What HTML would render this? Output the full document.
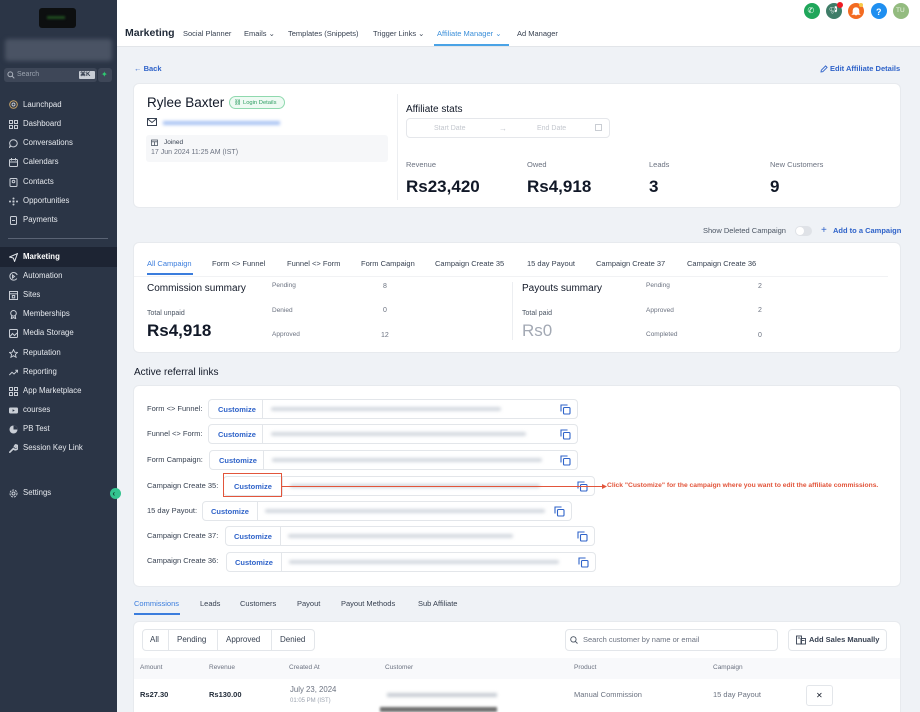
<!DOCTYPE html>
<html style="width:920px;height:712px;overflow:hidden"><head><meta charset="utf-8">
<style>
*{box-sizing:border-box;margin:0;padding:0}
html,body{width:920px;height:712px;overflow:hidden}
body{background:#eff2f6;font-family:"Liberation Sans",sans-serif;position:relative;color:#111827}
.a{position:absolute}
.t{position:absolute;line-height:0;white-space:nowrap}
.sb{position:absolute;left:0;top:0;width:117px;height:712px;background:#2b3546}
.si{position:absolute;left:23px;font-size:7.8px;color:#e6e9ee;line-height:0;white-space:nowrap}
.ic{position:absolute;left:9px;width:9px;height:9px}
.card{position:absolute;background:#fff;border-radius:5px;box-shadow:0 0 0 1px #e7eaee}
.lbl{font-size:7.5px;color:#6b7280}
.big{font-size:17px;font-weight:bold;color:#111827}
.tab{font-size:7.5px;color:#374151}
.box{position:absolute;height:20px;border:1px solid #e3e6ea;border-radius:4px;background:#fff}
.cz{position:absolute;top:10px;line-height:0;font-size:7.5px;font-weight:bold;color:#2f63c9;white-space:nowrap}
.dv{position:absolute;top:0;width:1px;height:18px;background:#e3e6ea}
.bl{position:absolute;top:7px;height:4px;background:#d3d8df;filter:blur(1.5px);border-radius:2px}
.cp{position:absolute;top:4px;width:11px;height:11px}
.rl{font-size:7.5px;color:#374151}
.sm{font-size:6.5px;color:#6b7280}
</style></head><body>

<!-- Sidebar -->
<div class="sb">
  <div class="a" style="left:39px;top:8px;width:37px;height:20px;background:#0d0f10;border-radius:3px"></div>
  <div class="a" style="left:47px;top:16px;width:18px;height:3px;background:#1f4a1f;filter:blur(1px)"></div>
  <div class="a" style="left:5px;top:39px;width:107px;height:22px;background:#4a5364;border-radius:3px;filter:blur(2px)"></div>
  <div class="a" style="left:4px;top:68px;width:93px;height:14px;background:#3e4758;border-radius:3px"></div>
  <svg class="a" style="left:7px;top:71px" width="8" height="8" viewBox="0 0 8 8"><circle cx="3.3" cy="3.3" r="2.4" fill="none" stroke="#aab1bc" stroke-width="1"/><line x1="5" y1="5" x2="7.3" y2="7.3" stroke="#aab1bc" stroke-width="1"/></svg>
  <div class="t" style="left:17px;top:75px;font-size:7px;color:#9aa2ae">Search</div>
  <div class="a" style="left:79px;top:71px;width:16px;height:8px;background:#c9ced6;border-radius:1px"></div>
  <div class="t" style="left:80px;top:75px;font-size:6px;color:#2b3546;font-weight:bold">⌘K</div>
  <div class="a" style="left:98px;top:68px;width:14px;height:14px;background:#3e4758;border-radius:3px"></div>
  <div class="t" style="left:101px;top:75px;font-size:8px;color:#2ecc71">✦</div>

  <svg class="ic" style="top:100px" viewBox="0 0 9 9"><circle cx="4.5" cy="4.5" r="3.8" fill="none" stroke="#c9a56a" stroke-width="1"/><circle cx="4.5" cy="4.5" r="1.5" fill="none" stroke="#c9ced6" stroke-width=".9"/></svg>
  <div class="si" style="top:105px">Launchpad</div>
  <svg class="ic" style="top:119.5px" viewBox="0 0 9 9"><g fill="none" stroke="#c9ced6" stroke-width="1"><rect x=".5" y=".5" width="3" height="3"/><rect x="5.5" y=".5" width="3" height="3"/><rect x=".5" y="5.5" width="3" height="3"/><rect x="5.5" y="5.5" width="3" height="3"/></g></svg>
  <div class="si" style="top:124px">Dashboard</div>
  <svg class="ic" style="top:138.5px" viewBox="0 0 9 9"><path d="M4.5 .7a3.8 3.6 0 1 1-2.6 6.3L.6 8.3l.6-2.2A3.8 3.6 0 0 1 4.5.7z" fill="none" stroke="#c9ced6" stroke-width="1"/></svg>
  <div class="si" style="top:143px">Conversations</div>
  <svg class="ic" style="top:157.5px" viewBox="0 0 9 9"><g fill="none" stroke="#c9ced6" stroke-width="1"><rect x=".5" y="1.5" width="8" height="7" rx="1"/><line x1=".5" y1="4" x2="8.5" y2="4"/><line x1="2.5" y1="0" x2="2.5" y2="2.5"/><line x1="6.5" y1="0" x2="6.5" y2="2.5"/></g></svg>
  <div class="si" style="top:162px">Calendars</div>
  <svg class="ic" style="top:177.5px" viewBox="0 0 9 9"><g fill="none" stroke="#c9ced6" stroke-width="1"><rect x="1" y=".5" width="7" height="8" rx="1"/><circle cx="4.5" cy="3.5" r="1.3"/></g></svg>
  <div class="si" style="top:182px">Contacts</div>
  <svg class="ic" style="top:196.5px" viewBox="0 0 9 9"><g fill="#c9ced6"><circle cx="4.5" cy="1.5" r="1"/><circle cx="4.5" cy="7.5" r="1"/><circle cx="1" cy="4.5" r="1"/><circle cx="8" cy="4.5" r="1"/><rect x="3.5" y="3.5" width="2" height="2"/></g></svg>
  <div class="si" style="top:201px">Opportunities</div>
  <svg class="ic" style="top:215.5px" viewBox="0 0 9 9"><g fill="none" stroke="#c9ced6" stroke-width="1"><rect x="1.5" y=".5" width="6" height="8" rx="1"/><line x1="3" y1="4.5" x2="6" y2="4.5"/></g></svg>
  <div class="si" style="top:220px">Payments</div>

  <div class="a" style="left:8px;top:238px;width:100px;height:1px;background:#5a6374"></div>

  <div class="a" style="left:0;top:247px;width:117px;height:20px;background:#1d2433"></div>
  <svg class="ic" style="top:252.5px" viewBox="0 0 9 9"><path d="M.6 4 8.4.6 5.6 8.4 4.3 5 .6 4z" fill="none" stroke="#e6e9ee" stroke-width="1"/></svg>
  <div class="si" style="top:257px;font-weight:bold;color:#fff">Marketing</div>
  <svg class="ic" style="top:271.5px" viewBox="0 0 9 9"><g fill="none" stroke="#c9ced6" stroke-width="1"><path d="M7.8 6.5A3.8 3.8 0 1 1 8.2 3"/><path d="M3.5 3l2 1.5-2 1.5z"/></g></svg>
  <div class="si" style="top:276px">Automation</div>
  <svg class="ic" style="top:290.5px" viewBox="0 0 9 9"><g fill="none" stroke="#c9ced6" stroke-width="1"><rect x=".5" y=".5" width="8" height="8"/><line x1=".5" y1="2.8" x2="8.5" y2="2.8"/><rect x="3.3" y="4.5" width="2.4" height="2.4"/></g></svg>
  <div class="si" style="top:295px">Sites</div>
  <svg class="ic" style="top:309.5px" viewBox="0 0 9 9"><g fill="none" stroke="#c9ced6" stroke-width="1"><circle cx="4.5" cy="3.3" r="2.8"/><path d="M2.8 5.5 2.3 8.7 4.5 7.5 6.7 8.7 6.2 5.5"/></g></svg>
  <div class="si" style="top:314px">Memberships</div>
  <svg class="ic" style="top:328.5px" viewBox="0 0 9 9"><g fill="none" stroke="#c9ced6" stroke-width="1"><rect x=".5" y=".5" width="8" height="8" rx="1"/><path d="M1 7.5 3.5 4.5 5.5 6.5 8 4"/></g></svg>
  <div class="si" style="top:333px">Media Storage</div>
  <svg class="ic" style="top:348.5px" viewBox="0 0 9 9"><path d="M4.5.5 5.7 3.2 8.6 3.4 6.4 5.3 7.1 8.3 4.5 6.7 1.9 8.3 2.6 5.3.4 3.4 3.3 3.2z" fill="none" stroke="#c9ced6" stroke-width=".9"/></svg>
  <div class="si" style="top:353px">Reputation</div>
  <svg class="ic" style="top:367.5px" viewBox="0 0 9 9"><path d="M.3 7 3 4.3 5 6 8.7 2.3M6.3 2.3h2.4v2.4" fill="none" stroke="#c9ced6" stroke-width="1"/></svg>
  <div class="si" style="top:372px">Reporting</div>
  <svg class="ic" style="top:386.5px" viewBox="0 0 9 9"><g fill="none" stroke="#c9ced6" stroke-width="1"><rect x=".5" y=".5" width="3" height="3"/><rect x="5.5" y=".5" width="3" height="3"/><rect x=".5" y="5.5" width="3" height="3"/><rect x="5.5" y="5.5" width="3" height="3"/></g></svg>
  <div class="si" style="top:391px">App Marketplace</div>
  <svg class="ic" style="top:405.5px" viewBox="0 0 9 9"><rect x="0" y="1.5" width="9" height="6" rx="1.2" fill="#c9ced6"/><path d="M3.6 3.2 5.8 4.5 3.6 5.8z" fill="#2b3546"/></svg>
  <div class="si" style="top:410px">courses</div>
  <svg class="ic" style="top:424.5px" viewBox="0 0 9 9"><circle cx="4.5" cy="4.5" r="4" fill="#c9ced6"/><path d="M4.5 4.5 8.5 4.5A4 4 0 0 0 4.5.5z" fill="#2b3546"/></svg>
  <div class="si" style="top:429px">PB Test</div>
  <svg class="ic" style="top:443.5px" viewBox="0 0 9 9"><path d="M.8 8.2 4.5 4.5M4.5 4.5a2.4 2.4 0 1 0 2-3.6L5.5 2.3 6.7 3.5 8.1 2.5" fill="none" stroke="#c9ced6" stroke-width="1.6" stroke-linecap="round"/></svg>
  <div class="si" style="top:448px">Session Key Link</div>
  <svg class="ic" style="top:488.5px" viewBox="0 0 9 9"><g fill="none" stroke="#c9ced6" stroke-width="1"><circle cx="4.5" cy="4.5" r="1.5"/><circle cx="4.5" cy="4.5" r="3.5" stroke-dasharray="2 1"/></g></svg>
  <div class="si" style="top:493px">Settings</div>
</div>
<div class="a" style="left:110px;top:488px;width:11px;height:11px;border-radius:50%;background:#34c38f"></div>
<div class="t" style="left:112.5px;top:493.5px;font-size:8px;color:#0e3b2a;font-weight:bold">‹</div>

<!-- Top nav -->
<div class="a" style="left:117px;top:0;width:803px;height:47px;background:#fff;border-bottom:1px solid #e2e5e9"></div>
<div class="t" style="left:125px;top:33px;font-size:10.5px;font-weight:bold;color:#1f2937">Marketing</div>
<div class="t" style="left:183px;top:34px;font-size:7.5px;color:#374151">Social Planner</div>
<div class="t" style="left:244px;top:34px;font-size:7.5px;color:#374151">Emails ⌄</div>
<div class="t" style="left:288px;top:34px;font-size:7.5px;color:#374151">Templates (Snippets)</div>
<div class="t" style="left:373px;top:34px;font-size:7.5px;color:#374151">Trigger Links ⌄</div>
<div class="t" style="left:437px;top:34px;font-size:7.5px;color:#3b8fd9">Affiliate Manager ⌄</div>
<div class="a" style="left:434px;top:44px;width:75px;height:2px;background:#4aa3e6"></div>
<div class="t" style="left:517px;top:34px;font-size:7.5px;color:#374151">Ad Manager</div>

<div class="a" style="left:804px;top:3px;width:16px;height:16px;border-radius:50%;background:#1fa65a"></div>
<div class="t" style="left:807.5px;top:11px;font-size:8px;color:#fff">✆</div>
<div class="a" style="left:826px;top:3px;width:16px;height:16px;border-radius:50%;background:#3f7d68"></div>
<div class="t" style="left:829px;top:11px;font-size:7px;color:#fff">📢︎</div>
<div class="a" style="left:837px;top:2px;width:6px;height:6px;border-radius:50%;background:#ee1b24"></div>
<div class="a" style="left:848px;top:3px;width:16px;height:16px;border-radius:50%;background:#f36b21"></div>
<svg class="a" style="left:851px;top:6px" width="10" height="10" viewBox="0 0 10 10"><path d="M2 7.5V4.5a3 3 0 0 1 6 0v3l1 1H1z M4 9h2" fill="#fff" stroke="#fff" stroke-width=".6"/></svg>
<div class="a" style="left:859px;top:3px;width:4px;height:4px;border-radius:50%;background:#f7c948"></div>
<div class="a" style="left:871px;top:3px;width:16px;height:16px;border-radius:50%;background:#1f8ff0"></div>
<div class="t" style="left:876px;top:11.5px;font-size:9px;font-weight:bold;color:#fff">?</div>
<div class="a" style="left:893px;top:3px;width:16px;height:16px;border-radius:50%;background:#93bb7f"></div>
<div class="t" style="left:896px;top:11px;font-size:6.5px;color:#eef5ea">TU</div>

<!-- Back / Edit -->
<div class="t" style="left:134px;top:69px;font-size:7.5px;font-weight:bold;color:#2f63c9">←&nbsp;Back</div>
<svg class="a" style="left:820px;top:65px" width="8" height="8" viewBox="0 0 8 8"><path d="M1 7 1.3 5.2 5.6.9 7.1 2.4 2.8 6.7z" fill="none" stroke="#2f63c9" stroke-width=".9"/></svg>
<div class="t" style="left:830px;top:69px;font-size:7.5px;font-weight:bold;color:#2f63c9">Edit Affiliate Details</div>

<!-- Card 1 -->
<div class="card" style="left:134px;top:84px;width:766px;height:123px"></div>
<div class="t" style="left:147px;top:103px;font-size:13.5px;color:#111827">Rylee Baxter</div>
<div class="a" style="left:229px;top:96px;width:56px;height:13px;border:1px solid #8fd9ae;background:#eefaf3;border-radius:7px"></div>
<div class="t" style="left:234px;top:102.5px;font-size:5.8px;color:#2f9e63">⛓ Login Details</div>
<svg class="a" style="left:147px;top:118px" width="10" height="8" viewBox="0 0 10 8"><rect x=".5" y=".5" width="9" height="7" fill="none" stroke="#374151" stroke-width="1"/><path d="M.5.8 5 4.5 9.5.8" fill="none" stroke="#374151" stroke-width="1"/></svg>
<div class="a" style="left:163px;top:121px;width:117px;height:4px;background:#a9c3f3;filter:blur(1.5px)"></div>
<div class="a" style="left:146px;top:135px;width:242px;height:27px;background:#f6f7f9;border-radius:3px"></div>
<svg class="a" style="left:151px;top:139px" width="7" height="7" viewBox="0 0 7 7"><g fill="none" stroke="#4b5563" stroke-width=".8"><rect x=".5" y="1" width="6" height="5.5"/><line x1=".5" y1="2.8" x2="6.5" y2="2.8"/><line x1="3.5" y1="2.8" x2="3.5" y2="6.5"/></g></svg>
<div class="t" style="left:164px;top:143px;font-size:6.5px;color:#374151">Joined</div>
<div class="t" style="left:151px;top:153px;font-size:7px;color:#6b7280">17 Jun 2024 11:25 AM (IST)</div>

<div class="a" style="left:397px;top:94px;width:1px;height:106px;background:#eceef1"></div>
<div class="t" style="left:406px;top:110px;font-size:10px;color:#111827">Affiliate stats</div>
<div class="a" style="left:406px;top:118px;width:204px;height:20px;border:1px solid #e5e7eb;border-radius:4px"></div>
<div class="t" style="left:434px;top:128.5px;font-size:7px;color:#c3c7ce">Start Date</div>
<div class="t" style="left:499px;top:128.5px;font-size:8px;color:#c3c7ce">→</div>
<div class="t" style="left:537px;top:128.5px;font-size:7px;color:#c3c7ce">End Date</div>
<div class="a" style="left:595px;top:124px;width:7px;height:7px;border:1px solid #c9cdd3"></div>

<div class="t lbl" style="left:406px;top:165px">Revenue</div>
<div class="t lbl" style="left:527px;top:165px">Owed</div>
<div class="t lbl" style="left:649px;top:165px">Leads</div>
<div class="t lbl" style="left:770px;top:165px">New Customers</div>
<div class="t big" style="left:406px;top:187px">Rs23,420</div>
<div class="t big" style="left:527px;top:187px">Rs4,918</div>
<div class="t big" style="left:649px;top:187px">3</div>
<div class="t big" style="left:770px;top:187px">9</div>

<!-- Show deleted -->
<div class="t" style="left:703px;top:231px;font-size:7.5px;color:#4b5563">Show Deleted Campaign</div>
<div class="a" style="left:795px;top:226px;width:17px;height:10px;border-radius:5px;background:#dfe2e7"></div>
<div class="a" style="left:796px;top:227px;width:8px;height:8px;border-radius:50%;background:#fff"></div>
<div class="t" style="left:821px;top:231px;font-size:10px;color:#2f63c9">+</div>
<div class="t" style="left:833px;top:231px;font-size:7.5px;font-weight:bold;color:#2f63c9">Add to a Campaign</div>

<!-- Card 2 -->
<div class="card" style="left:134px;top:243px;width:766px;height:109px"></div>
<div class="t tab" style="left:147px;top:264px;color:#3b7ddd">All Campaign</div>
<div class="a" style="left:147px;top:273px;width:46px;height:2px;background:#3b7ddd"></div>
<div class="t tab" style="left:212px;top:264px">Form &lt;&gt; Funnel</div>
<div class="t tab" style="left:287px;top:264px">Funnel &lt;&gt; Form</div>
<div class="t tab" style="left:361px;top:264px">Form Campaign</div>
<div class="t tab" style="left:435px;top:264px">Campaign Create 35</div>
<div class="t tab" style="left:527px;top:264px">15 day Payout</div>
<div class="t tab" style="left:596px;top:264px">Campaign Create 37</div>
<div class="t tab" style="left:687px;top:264px">Campaign Create 36</div>
<div class="a" style="left:134px;top:276px;width:754px;height:1px;background:#f1f2f4"></div>

<div class="t" style="left:147px;top:289px;font-size:10px;color:#111827">Commission summary</div>
<div class="t" style="left:147px;top:314px;font-size:7px;color:#4b5563">Total unpaid</div>
<div class="t big" style="left:147px;top:331px">Rs4,918</div>
<div class="t sm" style="left:272px;top:286px">Pending</div>
<div class="t sm" style="left:272px;top:311px">Denied</div>
<div class="t sm" style="left:272px;top:335px">Approved</div>
<div class="t" style="left:383px;top:287px;font-size:7px;color:#6b7280">8</div>
<div class="t" style="left:383px;top:311px;font-size:7px;color:#6b7280">0</div>
<div class="t" style="left:381px;top:336px;font-size:7px;color:#6b7280">12</div>
<div class="a" style="left:512px;top:282px;width:1px;height:58px;background:#eceef1"></div>
<div class="t" style="left:522px;top:289px;font-size:10px;color:#111827">Payouts summary</div>
<div class="t" style="left:522px;top:314px;font-size:7px;color:#4b5563">Total paid</div>
<div class="t big" style="left:522px;top:331px;color:#a3a9b4;font-weight:normal">Rs0</div>
<div class="t sm" style="left:646px;top:286px">Pending</div>
<div class="t sm" style="left:646px;top:311px">Approved</div>
<div class="t sm" style="left:646px;top:335px">Completed</div>
<div class="t" style="left:758px;top:287px;font-size:7px;color:#6b7280">2</div>
<div class="t" style="left:758px;top:311px;font-size:7px;color:#6b7280">2</div>
<div class="t" style="left:758px;top:336px;font-size:7px;color:#6b7280">0</div>

<div class="t" style="left:134px;top:373px;font-size:10px;color:#111827">Active referral links</div>

<!-- Card 3 -->
<div class="card" style="left:134px;top:386px;width:766px;height:200px"></div>

<div class="t rl" style="left:147px;top:409px">Form &lt;&gt; Funnel:</div>
<div class="box" style="left:208px;top:399px;width:370px"><div class="cz" style="left:9px">Customize</div><div class="dv" style="left:53px"></div><div class="bl" style="left:62px;width:230px"></div>
<svg class="cp" style="left:351px" viewBox="0 0 11 11"><g fill="none" stroke="#2f63c9" stroke-width="1.1"><rect x="3.5" y="3.5" width="6.5" height="6.5" rx="1"/><path d="M7 1.5V1H1v6h.5"/></g></svg></div>

<div class="t rl" style="left:147px;top:434px">Funnel &lt;&gt; Form:</div>
<div class="box" style="left:208px;top:424px;width:370px"><div class="cz" style="left:9px">Customize</div><div class="dv" style="left:53px"></div><div class="bl" style="left:62px;width:255px"></div>
<svg class="cp" style="left:351px" viewBox="0 0 11 11"><g fill="none" stroke="#2f63c9" stroke-width="1.1"><rect x="3.5" y="3.5" width="6.5" height="6.5" rx="1"/><path d="M7 1.5V1H1v6h.5"/></g></svg></div>

<div class="t rl" style="left:147px;top:460px">Form Campaign:</div>
<div class="box" style="left:209px;top:450px;width:369px"><div class="cz" style="left:9px">Customize</div><div class="dv" style="left:53px"></div><div class="bl" style="left:62px;width:270px"></div>
<svg class="cp" style="left:350px" viewBox="0 0 11 11"><g fill="none" stroke="#2f63c9" stroke-width="1.1"><rect x="3.5" y="3.5" width="6.5" height="6.5" rx="1"/><path d="M7 1.5V1H1v6h.5"/></g></svg></div>

<div class="t rl" style="left:147px;top:486px">Campaign Create 35:</div>
<div class="box" style="left:223px;top:476px;width:372px"><div class="cz" style="left:10px">Customize</div><div class="dv" style="left:58px"></div><div class="bl" style="left:66px;width:250px"></div>
<svg class="cp" style="left:353px" viewBox="0 0 11 11"><g fill="none" stroke="#2f63c9" stroke-width="1.1"><rect x="3.5" y="3.5" width="6.5" height="6.5" rx="1"/><path d="M7 1.5V1H1v6h.5"/></g></svg></div>
<div class="a" style="left:223px;top:473px;width:59px;height:24px;border:1.5px solid #e2553b"></div>
<div class="a" style="left:282px;top:485.5px;width:321px;height:1px;background:#e2553b"></div>
<svg class="a" style="left:602px;top:483.5px" width="5" height="5" viewBox="0 0 5 5"><path d="M0 0 5 2.5 0 5z" fill="#e2553b"/></svg>
<div class="t" style="left:607px;top:486px;font-size:6.7px;font-weight:bold;color:#e2553b">Click "Customize" for the campaign where you want to edit the affiliate commissions.</div>

<div class="t rl" style="left:147px;top:511px">15 day Payout:</div>
<div class="box" style="left:202px;top:501px;width:370px"><div class="cz" style="left:8px">Customize</div><div class="dv" style="left:54px"></div><div class="bl" style="left:62px;width:280px"></div>
<svg class="cp" style="left:351px" viewBox="0 0 11 11"><g fill="none" stroke="#2f63c9" stroke-width="1.1"><rect x="3.5" y="3.5" width="6.5" height="6.5" rx="1"/><path d="M7 1.5V1H1v6h.5"/></g></svg></div>

<div class="t rl" style="left:147px;top:536px">Campaign Create 37:</div>
<div class="box" style="left:225px;top:526px;width:370px"><div class="cz" style="left:8px">Customize</div><div class="dv" style="left:54px"></div><div class="bl" style="left:62px;width:225px"></div>
<svg class="cp" style="left:351px" viewBox="0 0 11 11"><g fill="none" stroke="#2f63c9" stroke-width="1.1"><rect x="3.5" y="3.5" width="6.5" height="6.5" rx="1"/><path d="M7 1.5V1H1v6h.5"/></g></svg></div>

<div class="t rl" style="left:147px;top:561px">Campaign Create 36:</div>
<div class="box" style="left:226px;top:552px;width:370px"><div class="cz" style="left:8px">Customize</div><div class="dv" style="left:54px"></div><div class="bl" style="left:62px;width:270px"></div>
<svg class="cp" style="left:351px" viewBox="0 0 11 11"><g fill="none" stroke="#2f63c9" stroke-width="1.1"><rect x="3.5" y="3.5" width="6.5" height="6.5" rx="1"/><path d="M7 1.5V1H1v6h.5"/></g></svg></div>

<!-- Bottom tabs -->
<div class="t tab" style="left:134px;top:604px;color:#3b7ddd">Commissions</div>
<div class="a" style="left:134px;top:613px;width:46px;height:2px;background:#3b7ddd"></div>
<div class="t tab" style="left:200px;top:604px">Leads</div>
<div class="t tab" style="left:240px;top:604px">Customers</div>
<div class="t tab" style="left:297px;top:604px">Payout</div>
<div class="t tab" style="left:341px;top:604px">Payout Methods</div>
<div class="t tab" style="left:418px;top:604px">Sub Affiliate</div>

<!-- Card 4 -->
<div class="card" style="left:134px;top:622px;width:766px;height:90px;border-radius:5px 5px 0 0"></div>
<div class="a" style="left:142px;top:629px;width:173px;height:22px;border:1px solid #e3e6ea;border-radius:4px"></div>
<div class="a" style="left:168px;top:630px;width:1px;height:20px;background:#e3e6ea"></div>
<div class="a" style="left:217px;top:630px;width:1px;height:20px;background:#e3e6ea"></div>
<div class="a" style="left:271px;top:630px;width:1px;height:20px;background:#e3e6ea"></div>
<div class="t" style="left:150px;top:640px;font-size:8px;color:#374151">All</div>
<div class="t" style="left:177px;top:640px;font-size:8px;color:#374151">Pending</div>
<div class="t" style="left:226px;top:640px;font-size:8px;color:#374151">Approved</div>
<div class="t" style="left:280px;top:640px;font-size:8px;color:#374151">Denied</div>

<div class="a" style="left:565px;top:629px;width:213px;height:22px;border:1px solid #e3e6ea;border-radius:4px"></div>
<svg class="a" style="left:570px;top:636px" width="8" height="8" viewBox="0 0 8 8"><circle cx="3.4" cy="3.4" r="2.7" fill="none" stroke="#4b5563" stroke-width=".9"/><line x1="5.3" y1="5.3" x2="7.5" y2="7.5" stroke="#4b5563" stroke-width=".9"/></svg>
<div class="t" style="left:583px;top:640px;font-size:7.5px;color:#6b7280">Search customer by name or email</div>
<div class="a" style="left:788px;top:629px;width:99px;height:22px;border:1px solid #e3e6ea;border-radius:4px"></div>
<svg class="a" style="left:796px;top:635px" width="10" height="10" viewBox="0 0 10 10"><g fill="none" stroke="#374151" stroke-width=".9"><rect x=".5" y="1" width="5" height="8"/><rect x="5" y="3.5" width="4.5" height="5.5"/><line x1="1.8" y1="3" x2="4.2" y2="3"/><line x1="6" y1="5.5" x2="8.5" y2="5.5"/></g></svg>
<div class="t" style="left:809px;top:640px;font-size:7.5px;font-weight:bold;color:#374151">Add Sales Manually</div>

<div class="a" style="left:134px;top:658px;width:766px;height:21px;background:#f8f9fb"></div>
<div class="t" style="left:140px;top:668px;font-size:6.5px;color:#6b7280">Amount</div>
<div class="t" style="left:209px;top:668px;font-size:6.5px;color:#6b7280">Revenue</div>
<div class="t" style="left:289px;top:668px;font-size:6.5px;color:#6b7280">Created At</div>
<div class="t" style="left:385px;top:668px;font-size:6.5px;color:#6b7280">Customer</div>
<div class="t" style="left:574px;top:668px;font-size:6.5px;color:#6b7280">Product</div>
<div class="t" style="left:713px;top:668px;font-size:6.5px;color:#6b7280">Campaign</div>

<div class="t" style="left:140px;top:695px;font-size:7.5px;font-weight:bold;color:#1f2937">Rs27.30</div>
<div class="t" style="left:209px;top:695px;font-size:7.5px;font-weight:bold;color:#1f2937">Rs130.00</div>
<div class="t" style="left:290px;top:690px;font-size:7.8px;color:#6b7280">July 23, 2024</div>
<div class="t" style="left:290px;top:701px;font-size:6px;color:#9ca3af">01:05 PM (IST)</div>
<div class="a" style="left:387px;top:693px;width:110px;height:4px;background:#c7ccd3;filter:blur(1.5px)"></div>
<div class="a" style="left:380px;top:707px;width:117px;height:5px;background:#6e6e6e;filter:blur(1.2px)"></div>
<div class="t" style="left:574px;top:695px;font-size:7.5px;color:#6b7280">Manual Commission</div>
<div class="t" style="left:713px;top:695px;font-size:7.5px;color:#6b7280">15 day Payout</div>
<div class="a" style="left:806px;top:685px;width:27px;height:21px;border:1px solid #e3e6ea;border-radius:3px;background:#fff"></div>
<div class="t" style="left:816px;top:695.5px;font-size:8px;color:#111827">✕</div>

</body></html>
